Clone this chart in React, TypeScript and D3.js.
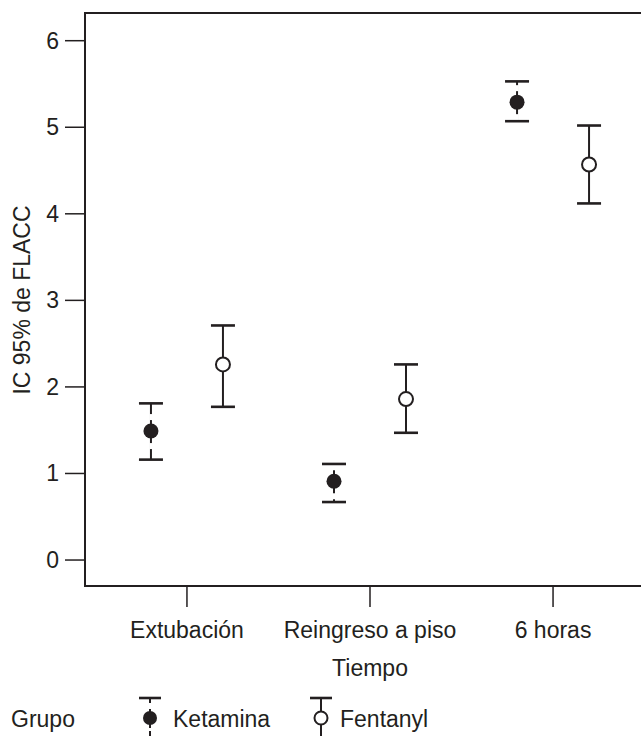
import React from "react";
import * as d3 from "d3";

const categories = ["Extubación", "Reingreso a piso", "6 horas"];
const groups = ["Ketamina", "Fentanyl"];
const ketaminaMean = [1.49, 0.91, 5.29];
const ketaminaLow = [1.16, 0.67, 5.07];
const ketaminaHigh = [1.81, 1.11, 5.53];
const fentanylMean = [2.26, 1.86, 4.57];
const fentanylLow = [1.77, 1.47, 4.12];
const fentanylHigh = [2.71, 2.26, 5.02];
const yTicks = [0, 1, 2, 3, 4, 5, 6];

const W = 641;
const H = 736;
const INK = "#231f20";
const FONT = "'Liberation Sans', Arial, Helvetica, sans-serif";
const FS = 23;

export default function App() {
  const left = 85, top = 13, bottom = 586;
  const y = d3.scaleLinear().domain([-0.3, 6.32]).range([bottom, top]);
  const x = d3.scalePoint<string>().domain(categories).range([85, 655]).padding(0.557);
  const off = d3.scalePoint<string>().domain(groups).range([-36, 36]);

  const series = [
    { name: "Ketamina", mean: ketaminaMean, low: ketaminaLow, high: ketaminaHigh, filled: true },
    { name: "Fentanyl", mean: fentanylMean, low: fentanylLow, high: fentanylHigh, filled: false },
  ];
  const capHalf = 12;
  const r = 7;

  const errorBar = (cx: number, yl: number, yh: number, ym: number, filled: boolean, key: string) => (
    <g key={key}>
      <line x1={cx} x2={cx} y1={yh} y2={yl} stroke={INK} strokeWidth={2} />
      {filled && (
        <>
          <line x1={cx} x2={cx} y1={ym - 17} y2={Math.max(ym - 11, yh + 1)} stroke="#fff" strokeWidth={3} />
          <line x1={cx} x2={cx} y1={ym + 12} y2={Math.min(ym + 18, yl - 1)} stroke="#fff" strokeWidth={3} />
        </>
      )}
      <line x1={cx - capHalf} x2={cx + capHalf} y1={yh} y2={yh} stroke={INK} strokeWidth={2.6} />
      <line x1={cx - capHalf} x2={cx + capHalf} y1={yl} y2={yl} stroke={INK} strokeWidth={2.6} />
      <circle cx={cx} cy={ym} r={filled ? 7.5 : r} fill={filled ? INK : "#fff"} stroke={INK} strokeWidth={filled ? 0 : 2} />
    </g>
  );

  return (
    <svg width={W} height={H} style={{ position: "absolute", left: 0, top: 0, background: "#fff" }} fontFamily={FONT}>
      {/* frame */}
      <line x1={left} x2={left} y1={top - 1} y2={bottom + 1} stroke={INK} strokeWidth={2} />
      <line x1={left} x2={W} y1={top} y2={top} stroke={INK} strokeWidth={2} />
      <line x1={left} x2={W} y1={bottom} y2={bottom} stroke={INK} strokeWidth={2} />

      {/* y ticks */}
      {yTicks.map((t) => (
        <g key={t}>
          <line x1={65} x2={left} y1={y(t)} y2={y(t)} stroke={INK} strokeWidth={1.5} />
          <text x={59} y={y(t) + 8} textAnchor="end" fontSize={FS} fill={INK}>{t}</text>
        </g>
      ))}
      <text transform={`translate(30, 300) rotate(-90)`} textAnchor="middle" fontSize={FS} fill={INK}>IC 95% de FLACC</text>

      {/* x ticks */}
      {categories.map((c) => (
        <g key={c}>
          <line x1={x(c)!} x2={x(c)!} y1={bottom} y2={607} stroke={INK} strokeWidth={1.5} />
          <text x={x(c)!} y={638} textAnchor="middle" fontSize={FS} fill={INK}>{c}</text>
        </g>
      ))}
      <text x={370} y={676} textAnchor="middle" fontSize={FS} fill={INK}>Tiempo</text>

      {/* data */}
      {series.map((s) =>
        categories.map((c, i) =>
          errorBar(x(c)! + off(s.name)!, y(s.low[i]), y(s.high[i]), y(s.mean[i]), s.filled, s.name + c)
        )
      )}

      {/* legend */}
      <text x={11} y={727} fontSize={FS} fill={INK}>Grupo</text>
      {[{ name: "Ketamina", cx: 150, tx: 173, filled: true }, { name: "Fentanyl", cx: 321, tx: 340, filled: false }].map((l) => (
        <g key={l.name}>
          <line x1={l.cx} x2={l.cx} y1={698} y2={736} stroke={INK} strokeWidth={2} />
          {l.filled && (
            <>
              <line x1={l.cx} x2={l.cx} y1={703} y2={709} stroke="#fff" strokeWidth={3} />
              <line x1={l.cx} x2={l.cx} y1={728} y2={731} stroke="#fff" strokeWidth={3} />
            </>
          )}
          <line x1={l.cx - 11} x2={l.cx + 11} y1={698} y2={698} stroke={INK} strokeWidth={2.6} />
          <circle cx={l.cx} cy={718} r={l.filled ? 7 : 6.5} fill={l.filled ? INK : "#fff"} stroke={INK} strokeWidth={l.filled ? 0 : 2} />
          <text x={l.tx} y={727} fontSize={FS} fill={INK}>{l.name}</text>
        </g>
      ))}
    </svg>
  );
}
